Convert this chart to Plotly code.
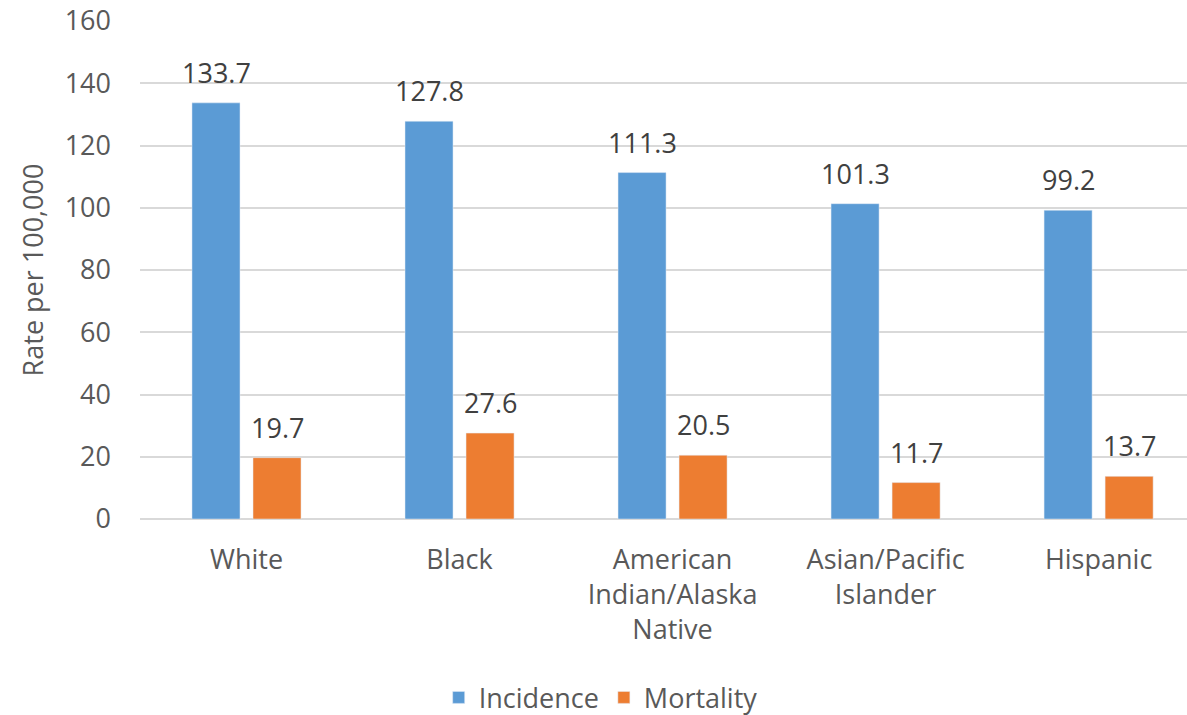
import plotly.graph_objects as go

categories = ["White", "Black", "American<br>Indian/Alaska<br>Native", "Asian/Pacific<br>Islander", "Hispanic"]
incidence = [133.7, 127.8, 111.3, 101.3, 99.2]
mortality = [19.7, 27.6, 20.5, 11.7, 13.7]
y_ticks = [0, 20, 40, 60, 80, 100, 120, 140, 160]

BLUE = "#5B9BD5"
ORANGE = "#ED7D31"
FONT = "Open Sans, sans-serif"
AXIS_GREY = "#595959"
LABEL_GREY = "#404040"
SIZE = 27

fig = go.Figure()
fig.add_trace(go.Bar(name="Incidence", x=categories, y=incidence, marker_color=BLUE))
fig.add_trace(go.Bar(name="Mortality", x=categories, y=mortality, marker_color=ORANGE))

# value labels above each bar, shifted left/right onto its bar in the group
for series, shift in ((incidence, -30.5), (mortality, 30.5)):
    for cat, val in zip(categories, series):
        fig.add_annotation(
            x=cat, y=val, text=f"{val:.1f}", showarrow=False,
            xshift=shift, yshift=10, yanchor="bottom",
            font=dict(family=FONT, size=SIZE, color=LABEL_GREY),
        )

fig.update_layout(
    width=1187, height=715,
    margin=dict(l=140, r=0, t=21, b=196, autoexpand=False),
    paper_bgcolor="white", plot_bgcolor="white",
    barmode="group", bargap=0.427, bargroupgap=0.213,
    font=dict(family=FONT, size=SIZE, color=AXIS_GREY),
    legend=dict(
        orientation="h", x=0.44, xanchor="center",
        yref="container", y=0.024, yanchor="middle",
        font=dict(family=FONT, size=SIZE, color=AXIS_GREY),
        itemwidth=30,
    ),
)
# the last category slot runs slightly past the right edge of the plot
fig.update_xaxes(
    range=[-0.5, 4.415],
    showline=False, showgrid=False, ticks="", automargin=False,
    ticklabelstandoff=22,
    tickfont=dict(family=FONT, size=SIZE, color=AXIS_GREY),
)
fig.update_yaxes(
    range=[0, 160], tickvals=y_ticks, showgrid=True, gridcolor="#D9D9D9", gridwidth=2,
    zeroline=True, zerolinecolor="#D9D9D9", zerolinewidth=2, automargin=False,
    showline=False, ticks="", ticklabelstandoff=28,
    tickfont=dict(family=FONT, size=SIZE, color=AXIS_GREY),
    title=dict(text="Rate per 100,000", standoff=13,
               font=dict(family=FONT, size=SIZE, color=AXIS_GREY)),
)

fig.write_html("out.html")
